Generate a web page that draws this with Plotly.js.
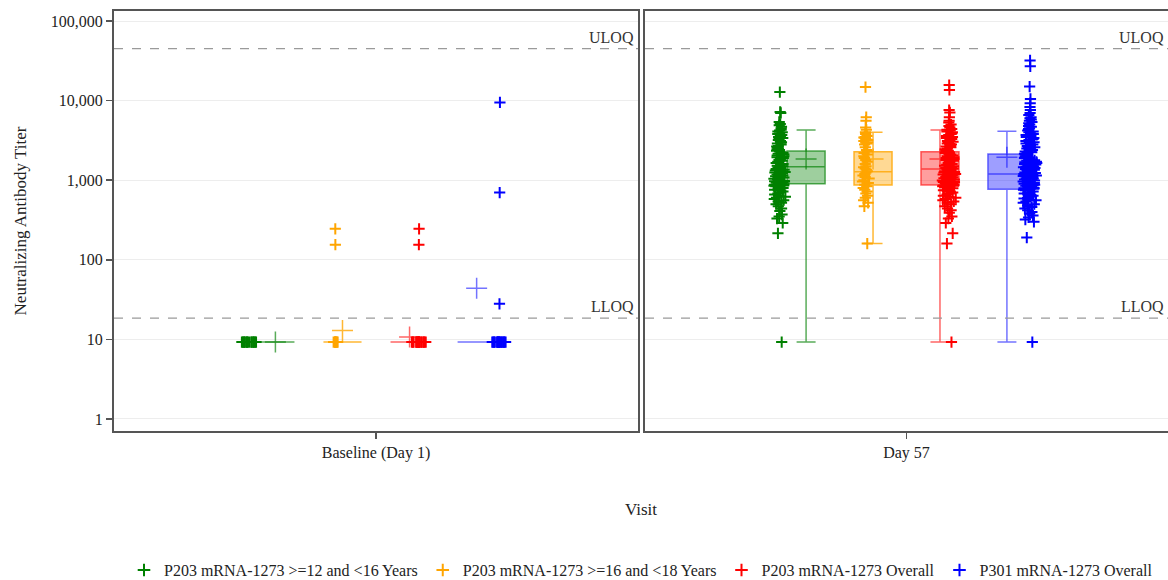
<!DOCTYPE html>
<html>
<head>
<meta charset="utf-8">
<script src="https://cdn.plot.ly/plotly-3.0.1.min.js"></script>
<style>
html, body { margin: 0; padding: 0; background: #ffffff; }
#chart { width: 1168px; height: 580px; }
</style>
</head>
<body>
<div id="chart"></div>
<script>
// ---------------- data ----------------
const visits = ['Baseline (Day 1)', 'Day 57'];
const groupNames = [
  'P203 mRNA-1273 &gt;=12 and &lt;16 Years',
  'P203 mRNA-1273 &gt;=16 and &lt;18 Years',
  'P203 mRNA-1273 Overall',
  'P301 mRNA-1273 Overall'
];
const yTickVals = [1, 10, 100, 1000, 10000, 100000];
const yTickText = ['1', '10', '100', '1,000', '10,000', '100,000'];
const LLOQ = 18.5;
const ULOQ = 45118;

// box statistics per group (green, orange, red, blue)
const q1Base     = [9.25, 9.25, 9.25, 9.25];
const medianBase = [9.25, 9.25, 9.25, 9.25];
const q3Base     = [9.25, 9.25, 9.25, 9.25];
const lowerBase  = [9.25, 9.25, 9.25, 9.25];
const upperBase  = [9.25, 9.25, 9.25, 9.25];
const meanBase   = [9.25, 12.9, 10.7, 44];

const q1Day57     = [900, 870, 870, 770];
const medianDay57 = [1480, 1280, 1380, 1200];
const q3Day57     = [2330, 2280, 2280, 2130];
const lowerDay57  = [9.25, 160, 9.25, 9.25];
const upperDay57  = [4280, 4000, 4280, 4110];
const meanDay57   = [1850, 1850, 1850, 1940];

// individual titers, Baseline
const ptsBaseGreen  = [9.25, 9.25, 9.25, 9.25, 9.25, 9.25, 9.25, 9.25, 9.25, 9.25, 9.25, 9.25, 9.25, 9.25, 9.25, 9.25];
const ptsBaseOrange = [9.25, 9.25, 9.25, 9.25, 9.25, 9.25, 9.25, 9.25, 155, 245];
const ptsBaseRed    = [9.25, 9.25, 9.25, 9.25, 9.25, 9.25, 9.25, 9.25, 9.25, 9.25, 9.25, 9.25, 9.25, 9.25, 9.25, 9.25, 9.25, 9.25, 155, 245];
const ptsBaseBlue   = [9.25, 9.25, 9.25, 9.25, 9.25, 9.25, 9.25, 9.25, 9.25, 9.25, 9.25, 9.25, 9.25, 9.25, 9.25, 9.25, 9.25, 9.25, 28, 700, 9500];

// individual titers, Day 57
const ptsDay57Green = [12800, 7200, 7000, 5400, 5100, 4900, 4700, 4500, 4300, 4200, 4100, 4000, 3900, 3800, 3700, 3600, 3500, 3400, 3300, 3200, 3100, 3000, 2950, 2900, 2800, 2700, 2650, 2600, 2500, 2450, 2400, 2350, 2300, 2250, 2200, 2150, 2100, 2050, 2000, 1950, 1900, 1850, 1800, 1750, 1700, 1650, 1600, 1560, 1520, 1500, 1460, 1420, 1400, 1380, 1350, 1320, 1300, 1270, 1250, 1220, 1200, 1180, 1150, 1120, 1100, 1080, 1060, 1040, 1020, 1000, 980, 970, 960, 950, 940, 930, 920, 900, 890, 880, 860, 850, 840, 820, 800, 790, 780, 760, 750, 740, 720, 700, 680, 660, 640, 620, 600, 580, 560, 540, 520, 500, 470, 440, 410, 370, 350, 330, 290, 215, 9.25];
const ptsDay57Orange = [14800, 6200, 5600, 4600, 4300, 4000, 3800, 3600, 3500, 3450, 3400, 3300, 3200, 3100, 3000, 2950, 2900, 2800, 2600, 2400, 2300, 2200, 2100, 2000, 1900, 1800, 1700, 1600, 1500, 1450, 1400, 1350, 1300, 1250, 1200, 1150, 1100, 1050, 1000, 960, 920, 880, 840, 800, 760, 720, 680, 640, 600, 560, 520, 470, 160];
const ptsDay57Red = [15700, 13600, 7600, 7100, 6200, 5600, 5300, 5000, 4800, 4600, 4400, 4300, 4200, 4100, 4000, 3900, 3800, 3700, 3600, 3500, 3450, 3400, 3300, 3200, 3100, 3050, 3000, 2900, 2850, 2800, 2700, 2650, 2600, 2500, 2450, 2400, 2350, 2300, 2250, 2200, 2150, 2100, 2050, 2000, 1950, 1900, 1850, 1800, 1750, 1700, 1650, 1600, 1560, 1520, 1500, 1460, 1420, 1400, 1380, 1350, 1320, 1300, 1270, 1250, 1220, 1200, 1180, 1150, 1120, 1100, 1080, 1060, 1040, 1020, 1000, 990, 980, 970, 960, 950, 940, 930, 920, 900, 890, 880, 870, 860, 850, 840, 820, 800, 790, 780, 760, 750, 740, 720, 700, 680, 660, 640, 620, 600, 580, 560, 540, 520, 500, 470, 440, 420, 390, 350, 330, 290, 215, 160, 9.25];
const ptsDay57Blue = [32000, 27000, 15000, 10500, 9300, 8300, 7600, 7000, 6600, 6200, 6000, 5800, 5600, 5400, 5200, 5000, 4800, 4700, 4500, 4400, 4200, 4100, 4000, 3900, 3800, 3700, 3600, 3500, 3400, 3300, 3250, 3200, 3100, 3000, 2950, 2900, 2800, 2750, 2700, 2600, 2550, 2500, 2450, 2400, 2350, 2300, 2250, 2200, 2150, 2100, 2050, 2000, 1950, 1900, 1850, 1800, 1780, 1750, 1700, 1680, 1650, 1600, 1580, 1550, 1520, 1500, 1480, 1450, 1420, 1400, 1380, 1350, 1320, 1300, 1280, 1250, 1230, 1200, 1180, 1150, 1130, 1100, 1080, 1060, 1040, 1020, 1000, 990, 980, 960, 950, 940, 920, 900, 880, 870, 860, 850, 840, 820, 800, 790, 780, 760, 750, 740, 720, 700, 690, 680, 660, 650, 640, 620, 600, 590, 580, 560, 540, 520, 500, 480, 460, 440, 420, 400, 380, 360, 340, 320, 300, 190, 9.25];

// ---------------- styles ----------------
const pointColors = ['#008000', '#FFA500', '#FF0000', '#0000FF'];
const boxLineColors = ['rgba(0,128,0,0.65)', 'rgba(255,165,0,0.8)', 'rgba(255,0,0,0.6)', 'rgba(0,0,255,0.55)'];
const boxFillColors = ['rgba(0,128,0,0.38)', 'rgba(255,165,0,0.42)', 'rgba(255,0,0,0.38)', 'rgba(0,0,255,0.38)'];
const pointPos = [-1.37, -0.37, 0.5, 1.21];
const jitterBase = [0.4, 0.15, 0.45, 0.4];
const jitterDay57 = [0.34, 0.2, 0.38, 0.36];
const serif = 'Liberation Serif, Times New Roman, serif';

const panels = [
  { visit: visits[0], xa: 'x', ya: 'y', q1: q1Base, med: medianBase, q3: q3Base, lo: lowerBase, hi: upperBase, mean: meanBase,
    pts: [ptsBaseGreen, ptsBaseOrange, ptsBaseRed, ptsBaseBlue], jit: jitterBase },
  { visit: visits[1], xa: 'x2', ya: 'y2', q1: q1Day57, med: medianDay57, q3: q3Day57, lo: lowerDay57, hi: upperDay57, mean: meanDay57,
    pts: [ptsDay57Green, ptsDay57Orange, ptsDay57Red, ptsDay57Blue], jit: jitterDay57 }
];

const traces = [];
panels.forEach(function (p) {
  // boxes from the statistics
  for (let g = 0; g < 4; g++) {
    traces.push({
      type: 'box', xaxis: p.xa, yaxis: p.ya,
      x: [p.visit], q1: [p.q1[g]], median: [p.med[g]], q3: [p.q3[g]],
      lowerfence: [p.lo[g]], upperfence: [p.hi[g]],
      boxpoints: false, whiskerwidth: 0.5,
      line: { color: boxLineColors[g], width: 1.5 }, fillcolor: boxFillColors[g],
      offsetgroup: 'g' + g, alignmentgroup: 'a',
      showlegend: false, hoverinfo: 'skip', name: groupNames[g]
    });
  }
  // individual points
  for (let g = 0; g < 4; g++) {
    traces.push({
      type: 'box', xaxis: p.xa, yaxis: p.ya,
      y: p.pts[g], x0: p.visit,
      boxpoints: 'all', jitter: p.jit[g], pointpos: pointPos[g],
      line: { color: 'rgba(0,0,0,0)', width: 0 }, fillcolor: 'rgba(0,0,0,0)',
      marker: { symbol: 'cross-thin-open', size: 8, color: pointColors[g], line: { width: 2, color: pointColors[g] } },
      offsetgroup: 'g' + g, alignmentgroup: 'a',
      showlegend: false, hoverinfo: 'skip', name: groupNames[g]
    });
  }
  // mean markers
  for (let g = 0; g < 4; g++) {
    traces.push({
      type: 'box', xaxis: p.xa, yaxis: p.ya,
      y: [p.mean[g]], x0: p.visit,
      boxpoints: 'all', jitter: 0, pointpos: 0,
      line: { color: 'rgba(0,0,0,0)', width: 0 }, fillcolor: 'rgba(0,0,0,0)',
      marker: { symbol: 'cross-thin-open', size: 15, color: boxLineColors[g], line: { width: 1.5, color: boxLineColors[g] } },
      offsetgroup: 'g' + g, alignmentgroup: 'a',
      showlegend: false, hoverinfo: 'skip', name: groupNames[g]
    });
  }
});

// legend entries (no drawn marks)
for (let g = 0; g < 4; g++) {
  traces.push({
    type: 'scatter', mode: 'markers', xaxis: 'x2', yaxis: 'y2',
    x: [null], y: [null], name: groupNames[g], showlegend: true,
    marker: { symbol: 'cross-thin-open', size: 9, color: pointColors[g], line: { width: 2, color: pointColors[g] } }
  });
}

const frame = '#555555';
function xAxis(domain, anchor) {
  return {
    domain: domain, anchor: anchor, type: 'category', range: [-0.5, 0.5],
    showline: true, mirror: true, linecolor: frame, linewidth: 2,
    ticks: 'outside', ticklen: 6, tickwidth: 1.5, tickcolor: frame,
    tickfont: { family: serif, size: 16, color: '#222' },
    showgrid: false, zeroline: false, fixedrange: true, automargin: false
  };
}
function yAxis(anchor, labels) {
  const ax = {
    anchor: anchor, type: 'log', range: [-0.151, 5.126],
    tickvals: yTickVals, ticktext: yTickText,
    showline: true, mirror: true, linecolor: frame, linewidth: 2,
    showgrid: true, gridcolor: '#ededed', gridwidth: 1,
    zeroline: false, fixedrange: true, automargin: false,
    tickfont: { family: serif, size: 16, color: '#222' }
  };
  if (labels) {
    ax.ticks = 'outside'; ax.ticklen = 6; ax.tickwidth = 1.5; ax.tickcolor = frame;
    ax.title = { text: 'Neutralizing Antibody Titer', font: { family: serif, size: 17, color: '#222' }, standoff: 20 };
  } else {
    ax.ticks = ''; ax.showticklabels = false; ax.matches = 'y';
  }
  return ax;
}

const shapes = [];
const annotations = [];
[['x domain', 'y'], ['x2 domain', 'y2']].forEach(function (r) {
  [[ULOQ, 'ULOQ'], [LLOQ, 'LLOQ']].forEach(function (lim) {
    shapes.push({
      type: 'line', xref: r[0], yref: r[1], x0: 0, x1: 1,
      y0: lim[0], y1: lim[0],
      line: { color: '#9a9a9a', width: 1.2, dash: 'dash' }
    });
    annotations.push({
      xref: r[0], yref: r[1], x: 1, xanchor: 'right', xshift: -2,
      y: Math.log10(lim[0]), yanchor: 'bottom', yshift: 1,
      text: lim[1], showarrow: false,
      font: { family: serif, size: 16, color: '#333' }
    });
  });
});
annotations.push({
  xref: 'paper', yref: 'paper', x: 0.5, y: -0.188, xanchor: 'center', yanchor: 'middle',
  text: 'Visit', showarrow: false, font: { family: serif, size: 17, color: '#222' }
});

const layout = {
  width: 1168, height: 580,
  margin: { l: 114, r: 0, t: 11, b: 149, pad: 0 },
  paper_bgcolor: '#ffffff', plot_bgcolor: '#ffffff',
  font: { family: serif, size: 16, color: '#222' },
  boxmode: 'group', boxgap: 0.488, boxgroupgap: 0.432,
  showlegend: true,
  legend: {
    orientation: 'h', x: 0.5, xanchor: 'center',
    yref: 'container', y: 0.017, yanchor: 'middle',
    font: { family: serif, size: 16, color: '#222' }, bgcolor: 'rgba(0,0,0,0)'
  },
  hovermode: false,
  xaxis: xAxis([0, 0.4972], 'y'),
  xaxis2: xAxis([0.5038, 1], 'y2'),
  yaxis: yAxis('x', true),
  yaxis2: yAxis('x2', false),
  shapes: shapes,
  annotations: annotations
};

Plotly.newPlot('chart', traces, layout, { staticPlot: true, displayModeBar: false });
</script>
</body>
</html>
